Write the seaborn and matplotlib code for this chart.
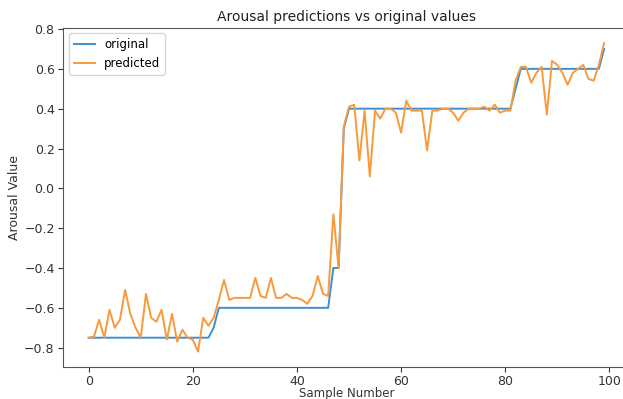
import matplotlib
matplotlib.use("Agg")
import matplotlib.pyplot as plt
import numpy as np
import pandas as pd
import seaborn as sns

# Ground-truth arousal levels per sample
original = (
    [-0.75] * 24 + [-0.7] + [-0.6] * 22 + [-0.4] * 2 + [0.3]
    + [0.4] * 32 + [0.5] + [0.6] * 16 + [0.7]
)

# Model output per sample
predicted = [
    -0.75, -0.745, -0.66, -0.75, -0.61, -0.70, -0.66, -0.51, -0.63, -0.70,
    -0.75, -0.53, -0.65, -0.67, -0.61, -0.76, -0.63, -0.77, -0.71, -0.75,
    -0.76, -0.82, -0.65, -0.69, -0.65, -0.56, -0.46, -0.56, -0.55, -0.55,
    -0.55, -0.55, -0.45, -0.54, -0.55, -0.45, -0.55, -0.55, -0.53, -0.55,
    -0.55, -0.56, -0.58, -0.54, -0.44, -0.53, -0.54, -0.13, -0.40, 0.31,
    0.41, 0.42, 0.14, 0.39, 0.06, 0.39, 0.35, 0.40, 0.40, 0.38,
    0.28, 0.44, 0.39, 0.39, 0.39, 0.19, 0.39, 0.39, 0.40, 0.40,
    0.38, 0.34, 0.38, 0.40, 0.40, 0.40, 0.41, 0.39, 0.42, 0.38,
    0.39, 0.39, 0.54, 0.61, 0.61, 0.53, 0.58, 0.61, 0.37, 0.64,
    0.62, 0.58, 0.52, 0.58, 0.60, 0.62, 0.55, 0.54, 0.62, 0.73,
]

sample = np.arange(len(original))
df = pd.DataFrame({"sample": sample, "original": original, "predicted": predicted})

fig = plt.figure(figsize=(6.23, 3.99), dpi=100)
ax = fig.add_axes([0.101, 0.08, 0.91, 0.851])

sns.lineplot(data=df, x="sample", y="original", ax=ax, color="#3d8fd1",
             linewidth=1.4, label="original")
sns.lineplot(data=df, x="sample", y="predicted", ax=ax, color="#f89a3c",
             linewidth=1.4, label="predicted")

ax.set_title("Arousal predictions vs original values", fontsize=10, color="#222222", pad=5)
ax.set_xlabel("Sample Number", fontsize=8.5, color="#333333", labelpad=-1)
ax.set_ylabel("Arousal Value", fontsize=9, color="#333333", labelpad=2)
ax.tick_params(labelsize=9, colors="#333333", pad=2.5)
ax.set_xticks([0, 20, 40, 60, 80, 100])
ax.set_yticks([-0.8, -0.6, -0.4, -0.2, 0.0, 0.2, 0.4, 0.6, 0.8])
for s in ax.spines.values():
    s.set_color("#555555")
ax.legend(loc="upper left", fontsize=8.5, handlelength=1.8)

fig.savefig("out.png", dpi=100)
